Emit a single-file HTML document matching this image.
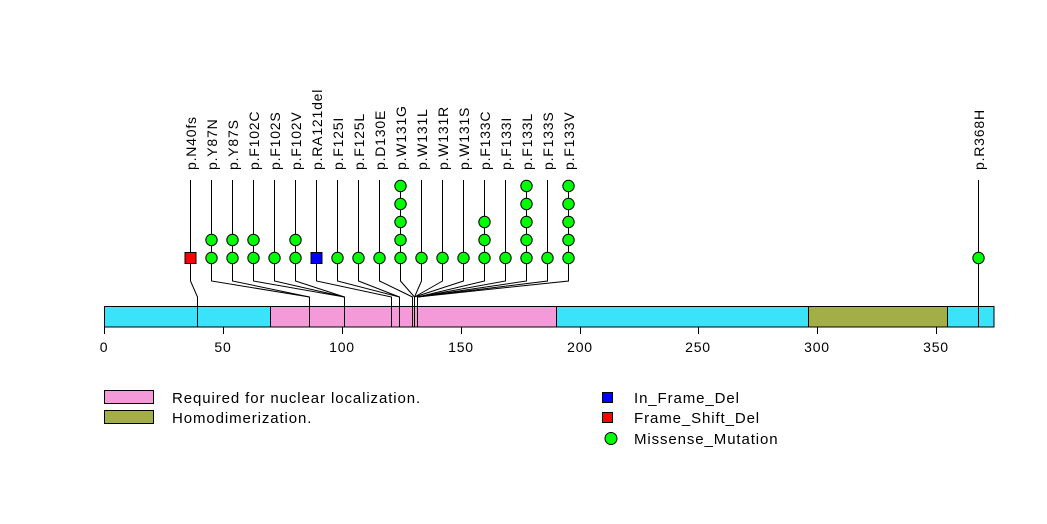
<!DOCTYPE html>
<html><head><meta charset="utf-8"><style>
html,body{margin:0;padding:0;background:#fff;}
svg{display:block;}
text{font-family:"Liberation Sans",Arial,sans-serif;fill:#000;}
</style></head><body>
<svg width="1047" height="524" viewBox="0 0 1047 524" xmlns="http://www.w3.org/2000/svg">
<rect x="0" y="0" width="1047" height="524" fill="#fff"/>
<rect x="104.5" y="306.5" width="889.5" height="20.5" fill="#3BE3FA" stroke="#000"/>
<rect x="270.5" y="306.5" width="286" height="20.5" fill="#F49AD8" stroke="#000"/>
<rect x="808.5" y="306.5" width="139" height="20.5" fill="#A4AE46" stroke="#000"/>
<g stroke="#000" fill="none">
<line x1="104.5" y1="327" x2="936.5" y2="327"/>
<line x1="104.5" y1="327" x2="104.5" y2="334"/>
<line x1="223.5" y1="327" x2="223.5" y2="334"/>
<line x1="342.5" y1="327" x2="342.5" y2="334"/>
<line x1="461.5" y1="327" x2="461.5" y2="334"/>
<line x1="580.5" y1="327" x2="580.5" y2="334"/>
<line x1="698.5" y1="327" x2="698.5" y2="334"/>
<line x1="817.5" y1="327" x2="817.5" y2="334"/>
<line x1="936.5" y1="327" x2="936.5" y2="334"/>
</g>
<g font-size="14" text-anchor="middle" letter-spacing="0.8">
<text x="104" y="352">0</text>
<text x="223" y="352">50</text>
<text x="342" y="352">100</text>
<text x="461" y="352">150</text>
<text x="580" y="352">200</text>
<text x="698" y="352">250</text>
<text x="817" y="352">300</text>
<text x="936" y="352">350</text>
</g>
<g stroke="#000" fill="none" stroke-width="1">
<polyline points="190.5,180 190.5,281 197.5,297 197.5,327"/>
<polyline points="211.5,180 211.5,281 309.5,297 309.5,327"/>
<polyline points="232.5,180 232.5,281 309.5,297"/>
<polyline points="253.5,180 253.5,281 344.5,297 344.5,327"/>
<polyline points="274.5,180 274.5,281 344.5,297"/>
<polyline points="295.5,180 295.5,281 344.5,297"/>
<polyline points="316.5,180 316.5,281 391.5,297 391.5,327"/>
<polyline points="337.5,180 337.5,281 399.5,297 399.5,327"/>
<polyline points="358.5,180 358.5,281 399.5,297"/>
<polyline points="379.5,180 379.5,281 412.5,297 412.5,327"/>
<polyline points="400.5,180 400.5,281 414.5,297 414.5,327"/>
<polyline points="421.5,180 421.5,281 414.5,297"/>
<polyline points="442.5,180 442.5,281 414.5,297"/>
<polyline points="463.5,180 463.5,281 414.5,297"/>
<polyline points="484.5,180 484.5,281 417.5,297 417.5,327"/>
<polyline points="505.5,180 505.5,281 417.5,297"/>
<polyline points="526.5,180 526.5,281 417.5,297"/>
<polyline points="547.5,180 547.5,281 417.5,297"/>
<polyline points="568.5,180 568.5,281 417.5,297"/>
<polyline points="978.5,180 978.5,327"/>
</g>
<g stroke="#000" stroke-width="1">
<rect x="185" y="252.5" width="11" height="11" fill="#FF0000"/>
<rect x="311" y="252.5" width="11" height="11" fill="#0000FF"/>
<g fill="#00FF00">
<circle cx="211.5" cy="258" r="5.7"/><circle cx="211.5" cy="240" r="5.7"/>
<circle cx="232.5" cy="258" r="5.7"/><circle cx="232.5" cy="240" r="5.7"/>
<circle cx="253.5" cy="258" r="5.7"/><circle cx="253.5" cy="240" r="5.7"/>
<circle cx="274.5" cy="258" r="5.7"/>
<circle cx="295.5" cy="258" r="5.7"/><circle cx="295.5" cy="240" r="5.7"/>
<circle cx="337.5" cy="258" r="5.7"/>
<circle cx="358.5" cy="258" r="5.7"/>
<circle cx="379.5" cy="258" r="5.7"/>
<circle cx="400.5" cy="258" r="5.7"/><circle cx="400.5" cy="240" r="5.7"/><circle cx="400.5" cy="222" r="5.7"/><circle cx="400.5" cy="204" r="5.7"/><circle cx="400.5" cy="186" r="5.7"/>
<circle cx="421.5" cy="258" r="5.7"/>
<circle cx="442.5" cy="258" r="5.7"/>
<circle cx="463.5" cy="258" r="5.7"/>
<circle cx="484.5" cy="258" r="5.7"/><circle cx="484.5" cy="240" r="5.7"/><circle cx="484.5" cy="222" r="5.7"/>
<circle cx="505.5" cy="258" r="5.7"/>
<circle cx="526.5" cy="258" r="5.7"/><circle cx="526.5" cy="240" r="5.7"/><circle cx="526.5" cy="222" r="5.7"/><circle cx="526.5" cy="204" r="5.7"/><circle cx="526.5" cy="186" r="5.7"/>
<circle cx="547.5" cy="258" r="5.7"/>
<circle cx="568.5" cy="258" r="5.7"/><circle cx="568.5" cy="240" r="5.7"/><circle cx="568.5" cy="222" r="5.7"/><circle cx="568.5" cy="204" r="5.7"/><circle cx="568.5" cy="186" r="5.7"/>
<circle cx="978.5" cy="258" r="5.7"/>
</g>
</g>
<g font-size="14" letter-spacing="0.8">
<text transform="translate(196,170) rotate(-90)">p.N40fs</text>
<text transform="translate(217,170) rotate(-90)">p.Y87N</text>
<text transform="translate(238,170) rotate(-90)">p.Y87S</text>
<text transform="translate(259,170) rotate(-90)">p.F102C</text>
<text transform="translate(280,170) rotate(-90)">p.F102S</text>
<text transform="translate(301,170) rotate(-90)">p.F102V</text>
<text transform="translate(322,170) rotate(-90)">p.RA121del</text>
<text transform="translate(343,170) rotate(-90)">p.F125I</text>
<text transform="translate(364,170) rotate(-90)">p.F125L</text>
<text transform="translate(385,170) rotate(-90)">p.D130E</text>
<text transform="translate(406,170) rotate(-90)">p.W131G</text>
<text transform="translate(427,170) rotate(-90)">p.W131L</text>
<text transform="translate(448,170) rotate(-90)">p.W131R</text>
<text transform="translate(469,170) rotate(-90)">p.W131S</text>
<text transform="translate(490,170) rotate(-90)">p.F133C</text>
<text transform="translate(511,170) rotate(-90)">p.F133I</text>
<text transform="translate(532,170) rotate(-90)">p.F133L</text>
<text transform="translate(553,170) rotate(-90)">p.F133S</text>
<text transform="translate(574,170) rotate(-90)">p.F133V</text>
<text transform="translate(984,170) rotate(-90)">p.R368H</text>
</g>
<g stroke="#000">
<rect x="104.5" y="390.5" width="49" height="13" fill="#F49AD8"/>
<rect x="104.5" y="410.5" width="49" height="13" fill="#A4AE46"/>
<rect x="602.5" y="392.5" width="10" height="10" fill="#0000FF"/>
<rect x="602.5" y="412.5" width="10" height="10" fill="#FF0000"/>
<circle cx="611" cy="438.5" r="6" fill="#00FF00"/>
</g>
<g font-size="15" letter-spacing="0.9">
<text x="172" y="403">Required for nuclear localization.</text>
<text x="172" y="423">Homodimerization.</text>
<text x="634" y="403">In_Frame_Del</text>
<text x="634" y="423">Frame_Shift_Del</text>
<text x="634" y="444">Missense_Mutation</text>
</g>
</svg>
</body></html>
